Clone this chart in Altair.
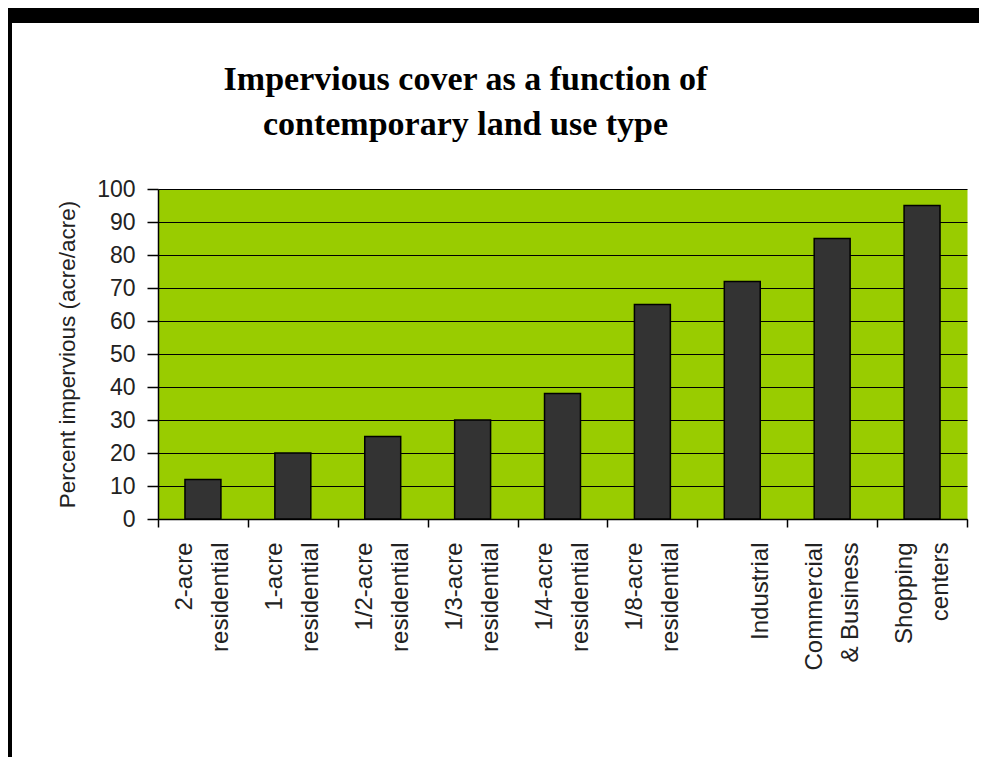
import altair as alt
import pandas as pd

# ---- data ----
categories = [
    "2-acre\nresidential",
    "1-acre\nresidential",
    "1/2-acre\nresidential",
    "1/3-acre\nresidential",
    "1/4-acre\nresidential",
    "1/8-acre\nresidential",
    "Industrial",
    "Commercial\n& Business",
    "Shopping\ncenters",
]
values = [12, 20, 25, 30, 38, 65, 72, 85, 95]
y_ticks = [0, 10, 20, 30, 40, 50, 60, 70, 80, 90, 100]

title_lines = ["Impervious cover as a function of", "contemporary land use type"]
y_title = "Percent impervious (acre/acre)"

# ---- layout ----
W, H = 809, 330
PAD = {"left": 150, "top": 181, "right": 12, "bottom": 238}
GREEN = "#99CC00"
SANS = "Liberation Sans"

df = pd.DataFrame({"category": categories, "value": values})

bars = alt.Chart(df).mark_bar(
    width=alt.RelativeBandSize(0.4),
    fill="#333333",
    stroke="black",
    strokeWidth=1.5,
).encode(
    x=alt.X(
        "category:N",
        sort=None,
        scale=alt.Scale(paddingInner=0, paddingOuter=0),
        axis=alt.Axis(
            title=None,
            labelAngle=270,
            labelAlign="right",
            labelBaseline="middle",
            # single-line labels get an empty leading line
            labelExpr="indexof(datum.label, '\\n') < 0 ? ['', datum.label] : split(datum.label, '\\n')",
            labelFont=SANS,
            labelFontSize=24,
            labelLineHeight=36,
            labelColor="#222222",
            labelPadding=15,
            labelOffset=-18,
            labelLimit=400,
            tickSize=8,
            tickBand="extent",
            tickColor="black",
            tickWidth=1.5,
            domainColor="black",
            domainWidth=1.5,
            grid=False,
        ),
    ),
    y=alt.Y(
        "value:Q",
        scale=alt.Scale(domain=[0, 100], nice=False),
        axis=alt.Axis(
            values=y_ticks,
            title=y_title,
            titleFont=SANS,
            titleFontSize=22.5,
            titleFontWeight="normal",
            titleColor="#222222",
            titlePadding=17,
            labelFont=SANS,
            labelFontSize=23,
            labelColor="#222222",
            labelPadding=12,
            tickSize=11,
            tickColor="black",
            tickWidth=1.5,
            domainColor="black",
            domainWidth=1.5,
            grid=True,
            gridColor="black",
            gridWidth=1.2,
        ),
    ),
)

# decorative black frame (top and left edges of the picture)
frame_top = alt.Chart(alt.Data(values=[{}])).mark_rect(color="black").encode(
    x=alt.value(-PAD["left"]),
    x2=alt.value(W + PAD["right"]),
    y=alt.value(-PAD["top"]),
    y2=alt.value(-PAD["top"] + 15),
)
frame_left = alt.Chart(alt.Data(values=[{}])).mark_rect(color="black").encode(
    x=alt.value(-PAD["left"]),
    x2=alt.value(-PAD["left"] + 4),
    y=alt.value(-PAD["top"]),
    y2=alt.value(H + PAD["bottom"]),
)

chart = alt.layer(bars, frame_top, frame_left).properties(
    width=W,
    height=H,
    title=alt.Title(
        text=title_lines,
        font="Liberation Serif",
        fontSize=34,
        fontWeight="bold",
        lineHeight=45,
        color="black",
        anchor="middle",
        frame="group",
        dx=-97,
        offset=-134,
    ),
    autosize=alt.AutoSizeParams(type="none"),
    padding=PAD,
    background="white",
).configure_view(
    fill=GREEN,
    stroke="transparent",
)

chart.save("out.html", embed_options={"renderer": "svg", "actions": False})
